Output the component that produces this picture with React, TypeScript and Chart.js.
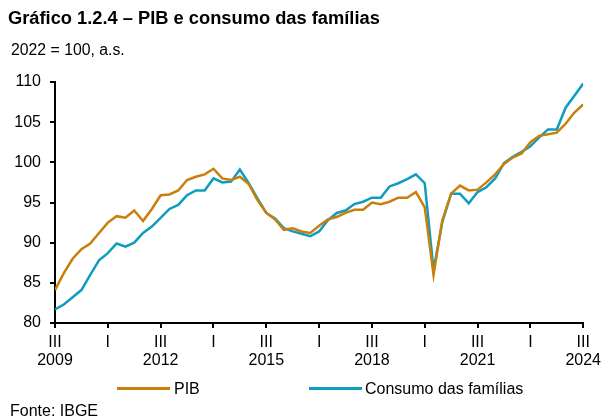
import React, { useEffect, useRef } from "react";
import { Chart, registerables } from "chart.js";

Chart.register(...registerables);

const xTickLabels: string[][] = [
  ["III", "2009"], ["I", ""], ["III", "2012"], ["I", ""], ["III", "2015"], ["I", ""],
  ["III", "2018"], ["I", ""], ["III", "2021"], ["I", ""], ["III", "2024"],
];

const yTicks = [80, 85, 90, 95, 100, 105, 110];

// Quarterly, 2009 III .. 2024 III
const pib = [
  84.1, 86.2, 88.0, 89.2, 89.9, 91.2, 92.5, 93.3, 93.1, 94.0,
  92.7, 94.2, 95.9, 96.0, 96.5, 97.8, 98.2, 98.5, 99.2, 98.0,
  97.8, 98.2, 97.3, 95.3, 93.7, 92.9, 91.6, 91.8, 91.4, 91.2,
  92.1, 92.9, 93.2, 93.7, 94.1, 94.1, 95.0, 94.8, 95.1, 95.6,
  95.6, 96.3, 94.4, 86.0, 92.8, 96.1, 97.1, 96.5, 96.6, 97.5,
  98.5, 99.8, 100.6, 101.1, 102.5, 103.3, 103.5, 103.7, 104.8, 106.2,
  107.2,
];

const consumo = [
  81.7, 82.3, 83.2, 84.1, 86.0, 87.8, 88.7, 89.9, 89.5, 90.0,
  91.2, 92.0, 93.1, 94.2, 94.7, 95.9, 96.5, 96.5, 98.0, 97.5,
  97.6, 99.1, 97.4, 95.5, 93.7, 93.0, 91.8, 91.4, 91.1, 90.8,
  91.4, 92.8, 93.7, 94.0, 94.8, 95.1, 95.6, 95.6, 97.0, 97.4,
  97.9, 98.5, 97.4, 86.6, 92.6, 96.1, 96.1, 94.9, 96.3, 96.9,
  98.0, 99.9, 100.7, 101.3, 102.0, 103.1, 104.1, 104.1, 106.8, 108.3,
  109.8,
];

const PIB_COLOR = "#C97F0C";
const CONS_COLOR = "#0E9DBE";
const FONT = "'Liberation Sans', Arial, sans-serif";

export default function App() {
  const ref = useRef<HTMLCanvasElement>(null);

  useEffect(() => {
    if (!ref.current) return;
    const toPts = (arr: number[]) => arr.map((v, i) => ({ x: i, y: v }));
    const chart = new Chart(ref.current, {
      type: "line",
      data: {
        datasets: [
          {
            label: "PIB",
            data: toPts(pib),
            borderColor: PIB_COLOR,
            backgroundColor: PIB_COLOR,
            borderWidth: 2.5,
            pointRadius: 0,
            tension: 0,
          },
          {
            label: "Consumo das famílias",
            data: toPts(consumo),
            borderColor: CONS_COLOR,
            backgroundColor: CONS_COLOR,
            borderWidth: 2.5,
            pointRadius: 0,
            tension: 0,
          },
        ],
      },
      options: {
        animation: false,
        responsive: false,
        maintainAspectRatio: false,
        layout: { padding: { left: 0, right: 18, top: 82, bottom: 0 } },
        plugins: {
          legend: { display: false },
          tooltip: { enabled: false },
          title: { display: false },
        },
        scales: {
          x: {
            type: "linear",
            min: 0,
            max: 60,
            afterFit: (s: any) => {
              s.height = 96;
            },
            afterBuildTicks: (s: any) => {
              s.ticks = xTickLabels.map((_, k) => ({ value: k * 6 }));
            },
            border: { display: true, color: "#000", width: 2 },
            grid: {
              display: true,
              drawOnChartArea: false,
              drawTicks: true,
              tickLength: 5,
              tickColor: "#000",
              lineWidth: 2,
            },
            ticks: {
              autoSkip: false,
              maxRotation: 0,
              padding: 5,
              color: "#000",
              font: { family: FONT, size: 16, lineHeight: 1.15 },
              callback: (v: any) => xTickLabels[Math.round(Number(v) / 6)],
            },
          },
          y: {
            min: 80,
            max: 110,
            afterFit: (s: any) => {
              s.width = 55;
            },
            afterBuildTicks: (s: any) => {
              s.ticks = yTicks.map((v) => ({ value: v }));
            },
            border: { display: true, color: "#000", width: 2 },
            grid: {
              display: true,
              drawOnChartArea: false,
              drawTicks: true,
              tickLength: 5,
              tickColor: "#000",
              lineWidth: 2,
            },
            ticks: {
              padding: 9,
              color: "#000",
              font: { family: FONT, size: 16 },
            },
          },
        },
      },
    });
    return () => chart.destroy();
  }, []);

  const legendLine = (color: string): React.CSSProperties => ({
    position: "absolute",
    height: 3,
    width: 53,
    background: color,
  });

  return (
    <div
      style={{
        position: "absolute",
        left: 0,
        top: 0,
        width: 606,
        height: 419,
        background: "#fff",
        fontFamily: FONT,
        color: "#000",
        overflow: "hidden",
      }}
    >
      <canvas
        ref={ref}
        width={606}
        height={419}
        style={{ position: "absolute", left: 0, top: 0, width: 606, height: 419 }}
      />
      <div
        style={{
          position: "absolute",
          left: 8,
          top: 7,
          fontSize: 18.3,
          fontWeight: "bold",
          lineHeight: "22px",
          whiteSpace: "nowrap",
        }}
      >
        Gráfico 1.2.4 – PIB e consumo das famílias
      </div>
      <div
        style={{
          position: "absolute",
          left: 11,
          top: 41,
          fontSize: 15.8,
          lineHeight: "18px",
          whiteSpace: "nowrap",
        }}
      >
        2022 = 100, a.s.
      </div>
      <div style={{ ...legendLine(PIB_COLOR), left: 117, top: 387 }} />
      <div
        style={{ position: "absolute", left: 174, top: 379, fontSize: 16, lineHeight: "19px", whiteSpace: "nowrap" }}
      >
        PIB
      </div>
      <div style={{ ...legendLine(CONS_COLOR), left: 309, top: 387 }} />
      <div
        style={{ position: "absolute", left: 365, top: 379, fontSize: 16, lineHeight: "19px", whiteSpace: "nowrap" }}
      >
        Consumo das famílias
      </div>
      <div
        style={{ position: "absolute", left: 10, top: 402, fontSize: 16, lineHeight: "18px", whiteSpace: "nowrap" }}
      >
        Fonte: IBGE
      </div>
    </div>
  );
}
